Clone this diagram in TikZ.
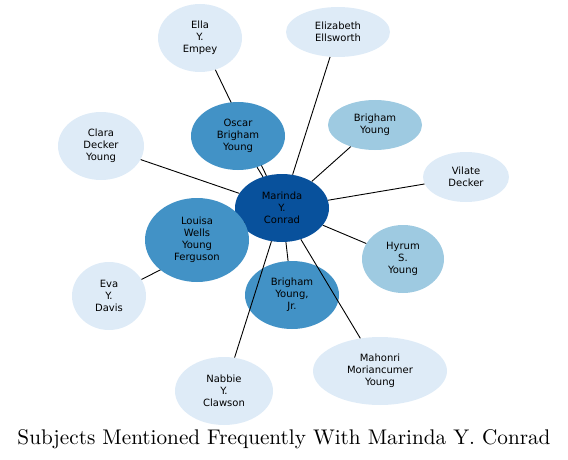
\documentclass[tikz,border=0pt]{standalone}
\usepackage{fontspec}
\newfontfamily\nodefont{DejaVu Sans}
\usetikzlibrary{shapes.geometric}
\definecolor{blA}{HTML}{DEEBF7}
\definecolor{blB}{HTML}{9ECAE1}
\definecolor{blC}{HTML}{4292C6}
\definecolor{blD}{HTML}{08519C}
\tikzset{
  person/.style={ellipse, inner sep=0pt, align=center, text=black,
    font=\nodefont\fontsize{10}{12}\selectfont},
  lvA/.style={person, fill=blA},
  lvB/.style={person, fill=blB},
  lvC/.style={person, fill=blC},
  lvD/.style={person, fill=blD},
  link/.style={draw=black, line width=0.9pt}
}
\begin{document}
\begin{tikzpicture}[x=1pt,y=-1pt]
\useasboundingbox (0,0) rectangle (568,460);
\node[lvA, minimum width=84pt, minimum height=68pt] (ella) at (200,38) {Ella\\Y.\\Empey};
\node[lvA, minimum width=104pt, minimum height=50pt] (eliz) at (338,32) {Elizabeth\\Ellsworth};
\node[lvB, minimum width=94pt, minimum height=50pt] (by) at (375,125) {Brigham\\Young};
\node[lvA, minimum width=86pt, minimum height=68pt] (clara) at (101,146) {Clara\\Decker\\Young};
\node[lvA, minimum width=86pt, minimum height=50pt] (vilate) at (466,177) {Vilate\\Decker};
\node[lvD, minimum width=94pt, minimum height=68pt] (mar) at (282,208) {Marinda\\Y.\\Conrad};
\node[lvB, minimum width=82pt, minimum height=68pt] (hyrum) at (403,259) {Hyrum\\S.\\Young};
\node[lvA, minimum width=74pt, minimum height=68pt] (eva) at (109,296) {Eva\\Y.\\Davis};
\node[lvC, minimum width=94pt, minimum height=68pt] (byjr) at (292,295) {Brigham\\Young,\\Jr.};
\node[lvA, minimum width=134pt, minimum height=68pt] (mah) at (380,371) {Mahonri\\Moriancumer\\Young};
\node[lvA, minimum width=98pt, minimum height=68pt] (nab) at (224,391) {Nabbie\\Y.\\Clawson};
\path (238,136) coordinate (oscpos) (197,240) coordinate (loupos);
\node[ellipse, minimum width=94pt, minimum height=68pt, inner sep=0pt] (oscb) at (oscpos) {};
\node[ellipse, minimum width=104pt, minimum height=84pt, inner sep=0pt] (loub) at (loupos) {};
\draw[link] (mar) -- (ella);
\draw[link] (mar) -- (oscb);
\draw[link] (mar) -- (eliz);
\draw[link] (mar) -- (by);
\draw[link] (mar) -- (clara);
\draw[link] (mar) -- (vilate);
\draw[link] (mar) -- (hyrum);
\draw[link] (mar) -- (eva);
\draw[link] (mar) -- (byjr);
\draw[link] (mar) -- (mah);
\draw[link] (mar) -- (nab);
\draw[link] (mar) -- (loub);
\node[lvC, minimum width=94pt, minimum height=68pt] (osc) at (oscpos) {Oscar\\Brigham\\Young};
\node[lvC, minimum width=104pt, minimum height=84pt] (lou) at (loupos) {Louisa\\Wells\\Young\\Ferguson};
\node[anchor=base] (title) at (284,444) {\resizebox{533pt}{!}{Subjects Mentioned Frequently With Marinda Y. Conrad}};
\end{tikzpicture}
\end{document}
